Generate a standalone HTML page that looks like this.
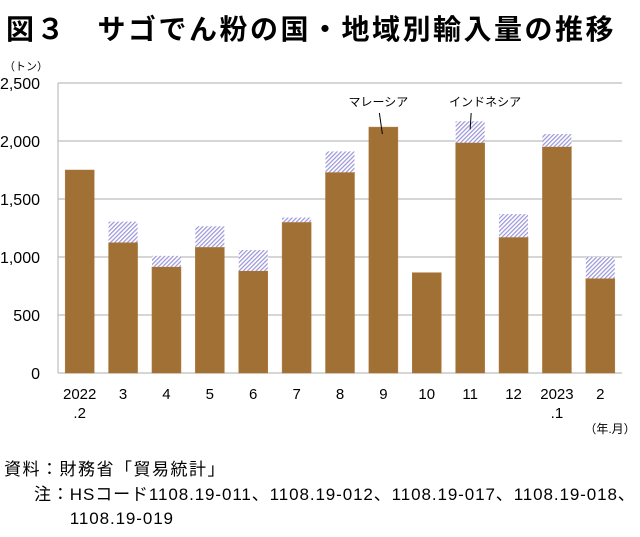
<!DOCTYPE html>
<html><head><meta charset="utf-8"><style>
body{margin:0;background:#fff;font-family:"Liberation Sans","Noto Sans CJK JP",sans-serif;}
#wrap{position:relative;width:640px;height:537px;overflow:hidden;}
.t{position:absolute;white-space:nowrap;color:#000;}
</style></head><body>
<div id="wrap">
<div class="t" style="left:6px;top:8px;font-size:28px;font-weight:bold;letter-spacing:2.5px;">図３　サゴでん粉の国・地域別輸入量の推移</div>
<svg id="chart" width="640" height="450" style="position:absolute;left:0;top:0">
<defs><pattern id="hatch" patternUnits="userSpaceOnUse" width="3" height="3" patternTransform="rotate(45)"><rect width="3" height="3" fill="#fff"/><rect width="1.2" height="3" fill="#9a94d8"/></pattern></defs>
</svg>
<div class="t" style="left:4px;top:455px;font-size:17px;letter-spacing:1.5px;">資料：財務省「貿易統計」</div>
<div class="t" style="left:34px;top:483px;font-size:17px;line-height:24px;letter-spacing:0.9px;">注：HSコード1108.19-011、1108.19-012、1108.19-017、1108.19-018、<br>　　1108.19-019</div>
</div>
<script>
const categories=["2022\n.2","3","4","5","6","7","8","9","10","11","12","2023\n.1","2"];
const malaysia=[1750,1125,915,1085,880,1300,1730,2120,865,1985,1170,1950,815];
const indonesia=[0,180,95,180,180,40,180,0,0,185,200,110,185];
const yTicks=[0,500,1000,1500,2000,2500];
const yTickLabels=["0","500","1,000","1,500","2,000","2,500"];
const NS="http://www.w3.org/2000/svg";
const svg=document.getElementById('chart');
const x0=58,x1=622,yBase=373,yTop=83,yMax=2500;
const y=v=>yBase-(v/yMax)*(yBase-yTop);
const slot=(x1-x0)/categories.length;
const bw=29;
const xc=i=>x0+slot*(i+0.5);
function mk(tag,attrs){const e=document.createElementNS(NS,tag);for(const k in attrs)e.setAttribute(k,attrs[k]);svg.appendChild(e);return e;}
yTicks.forEach((t,i)=>{
 const g=mk('line',{x1:x0,x2:x1,y1:y(t),y2:y(t),stroke:'#bdbdbd','stroke-width':1.2});
 
 
 const l=mk('text',{x:40,y:y(t)+6,'text-anchor':'end','font-size':16});
 l.textContent=yTickLabels[i];
 
 
});
const ax=mk('line',{x1:x0,x2:x0,y1:yTop,y2:yBase,stroke:'#bdbdbd','stroke-width':1.2});


const un=mk('text',{x:4,y:70,'font-size':11});
un.textContent='（トン）';


categories.forEach((c,i)=>{
 const m=malaysia[i],d=indonesia[i];
 const r=mk('rect',{x:xc(i)-bw/2,y:y(m),width:bw,height:yBase-y(m),fill:'#a07035',stroke:'#b07a3a','stroke-width':0.5});
 
 
 if(d>0){
  const h=mk('rect',{x:xc(i)-bw/2,y:y(m+d),width:bw,height:y(m)-y(m+d),fill:'url(#hatch)'});
  
  
 }
 c.split('\n').forEach((s,k)=>{
  const t=mk('text',{x:xc(i),y:399+k*19,'text-anchor':'middle','font-size':15});
  t.textContent=s;
  
  
 });
});
const ul=mk('text',{x:610,y:433,'text-anchor':'middle','font-size':12});
ul.textContent='（年.月）';


const mI=7,iI=9;
const a1=mk('text',{x:xc(mI)-5,y:106,'text-anchor':'middle','font-size':12});
a1.textContent='マレーシア';


const l1=mk('line',{x1:xc(mI)-4,y1:113,x2:xc(mI)-1,y2:y(malaysia[mI])+7,stroke:'#000','stroke-width':1});


const a2=mk('text',{x:xc(iI)+15,y:106,'text-anchor':'middle','font-size':12});
a2.textContent='インドネシア';


const l2=mk('line',{x1:xc(iI)+1,y1:113,x2:xc(iI),y2:y(malaysia[iI]+indonesia[iI])+8,stroke:'#000','stroke-width':1});


</script>
</body></html>
